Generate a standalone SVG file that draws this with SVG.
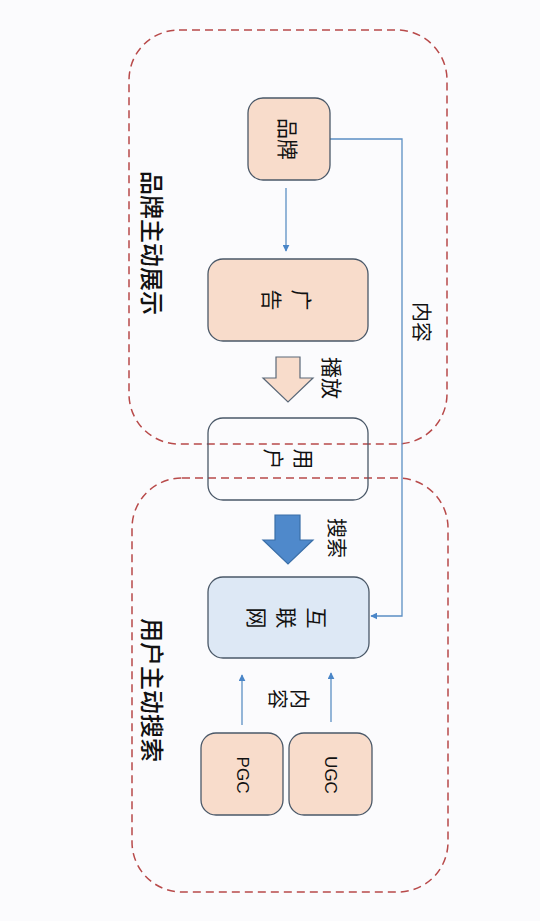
<svg xmlns="http://www.w3.org/2000/svg" width="540" height="921" viewBox="0 0 540 921">
<defs>
<style>
.zone{fill:none;stroke:#b84a4a;stroke-width:1.5;stroke-dasharray:8 5}
.peach{fill:#f8dccb;stroke:#4a5868;stroke-width:1.3}
.blue{fill:#dde8f5;stroke:#4a5868;stroke-width:1.3}
.plain{fill:none;stroke:#4a5868;stroke-width:1.3}
.cn{font-family:"Noto Sans CJK SC","Noto Sans",sans-serif;fill:#111;text-anchor:middle;dominant-baseline:central}
.lat{font-family:"Liberation Sans",Arial,sans-serif;fill:#111;text-anchor:middle;dominant-baseline:central}
.wire{fill:none;stroke:#5b8fc4;stroke-width:1.3}
</style>
<marker id="ah" viewBox="0 0 10 10" refX="9" refY="5" markerWidth="7" markerHeight="7" orient="auto" markerUnits="userSpaceOnUse">
<path d="M0,0 L10,5 L0,10 Z" fill="#4a86c8"/>
</marker>
</defs>
<rect width="540" height="921" fill="#fbfbfd"/>

<g id="zone-brand">
<rect class="zone" x="129" y="30" width="318" height="414" rx="50"/>
<text class="cn" font-size="24" font-weight="500" transform="translate(153 243) rotate(90)">品牌主动展示</text>
</g>
<g id="zone-user">
<rect class="zone" x="132" y="478" width="316" height="414" rx="50"/>
<text class="cn" font-size="24" font-weight="500" transform="translate(153 690) rotate(90)">用户主动搜索</text>
</g>

<g id="connectors">
<line class="wire" x1="286" y1="188" x2="286" y2="251" marker-end="url(#ah)"/>
<polyline class="wire" points="330,139 402,139 402,616 371,616" marker-end="url(#ah)"/>
<line class="wire" x1="242" y1="725" x2="242" y2="675" marker-end="url(#ah)"/>
<line class="wire" x1="331" y1="722" x2="331" y2="673" marker-end="url(#ah)"/>
<polygon points="276,357 300,357 300,378 313,378 288,402 263,378 276,378" fill="#f8dccb" stroke="#5a6878" stroke-width="1.2"/>
<polygon points="275,515 300,515 300,540 313,540 288,564 263,540 275,540" fill="#4f89cb" stroke="#3a6fa8" stroke-width="1.2"/>
<text class="cn" font-size="21" transform="translate(333 378) rotate(90)">播放</text>
<text class="cn" font-size="20" transform="translate(337 538) rotate(90)">搜索</text>
<text class="cn" font-size="20" transform="translate(422 322) rotate(90)">内容</text>
<text class="cn" font-size="20" transform="translate(290 699) rotate(90)"><tspan x="0" y="-11">内</tspan><tspan x="0" y="11">容</tspan></text>
</g>

<g id="node-brand">
<rect class="peach" x="248" y="98" width="82" height="82" rx="15"/>
<text class="cn" font-size="21" transform="translate(289 139) rotate(90)">品牌</text>
</g>
<g id="node-ad">
<rect class="peach" x="208" y="259" width="160" height="82" rx="15"/>
<text class="cn" font-size="21" transform="translate(288 300) rotate(90)"><tspan x="0" y="-15">广</tspan><tspan x="0" y="15">告</tspan></text>
</g>
<g id="node-user">
<rect class="plain" x="208" y="418" width="160" height="82" rx="15"/>
<text class="cn" font-size="21" transform="translate(290 459) rotate(90)"><tspan x="0" y="-15">用</tspan><tspan x="0" y="15">户</tspan></text>
</g>
<g id="node-internet">
<rect class="blue" x="208" y="577" width="161" height="81" rx="15"/>
<text class="cn" font-size="21" transform="translate(288 618) rotate(90)"><tspan x="0" y="-30">互</tspan><tspan x="0" y="0">联</tspan><tspan x="0" y="30">网</tspan></text>
</g>
<g id="node-pgc">
<rect class="peach" x="201" y="733" width="82" height="82" rx="15"/>
<text class="lat" font-size="17" transform="translate(242 775) rotate(90)">PGC</text>
</g>
<g id="node-ugc">
<rect class="peach" x="289" y="733" width="83" height="82" rx="15"/>
<text class="lat" font-size="17" transform="translate(330 775) rotate(90)">UGC</text>
</g>
</svg>
